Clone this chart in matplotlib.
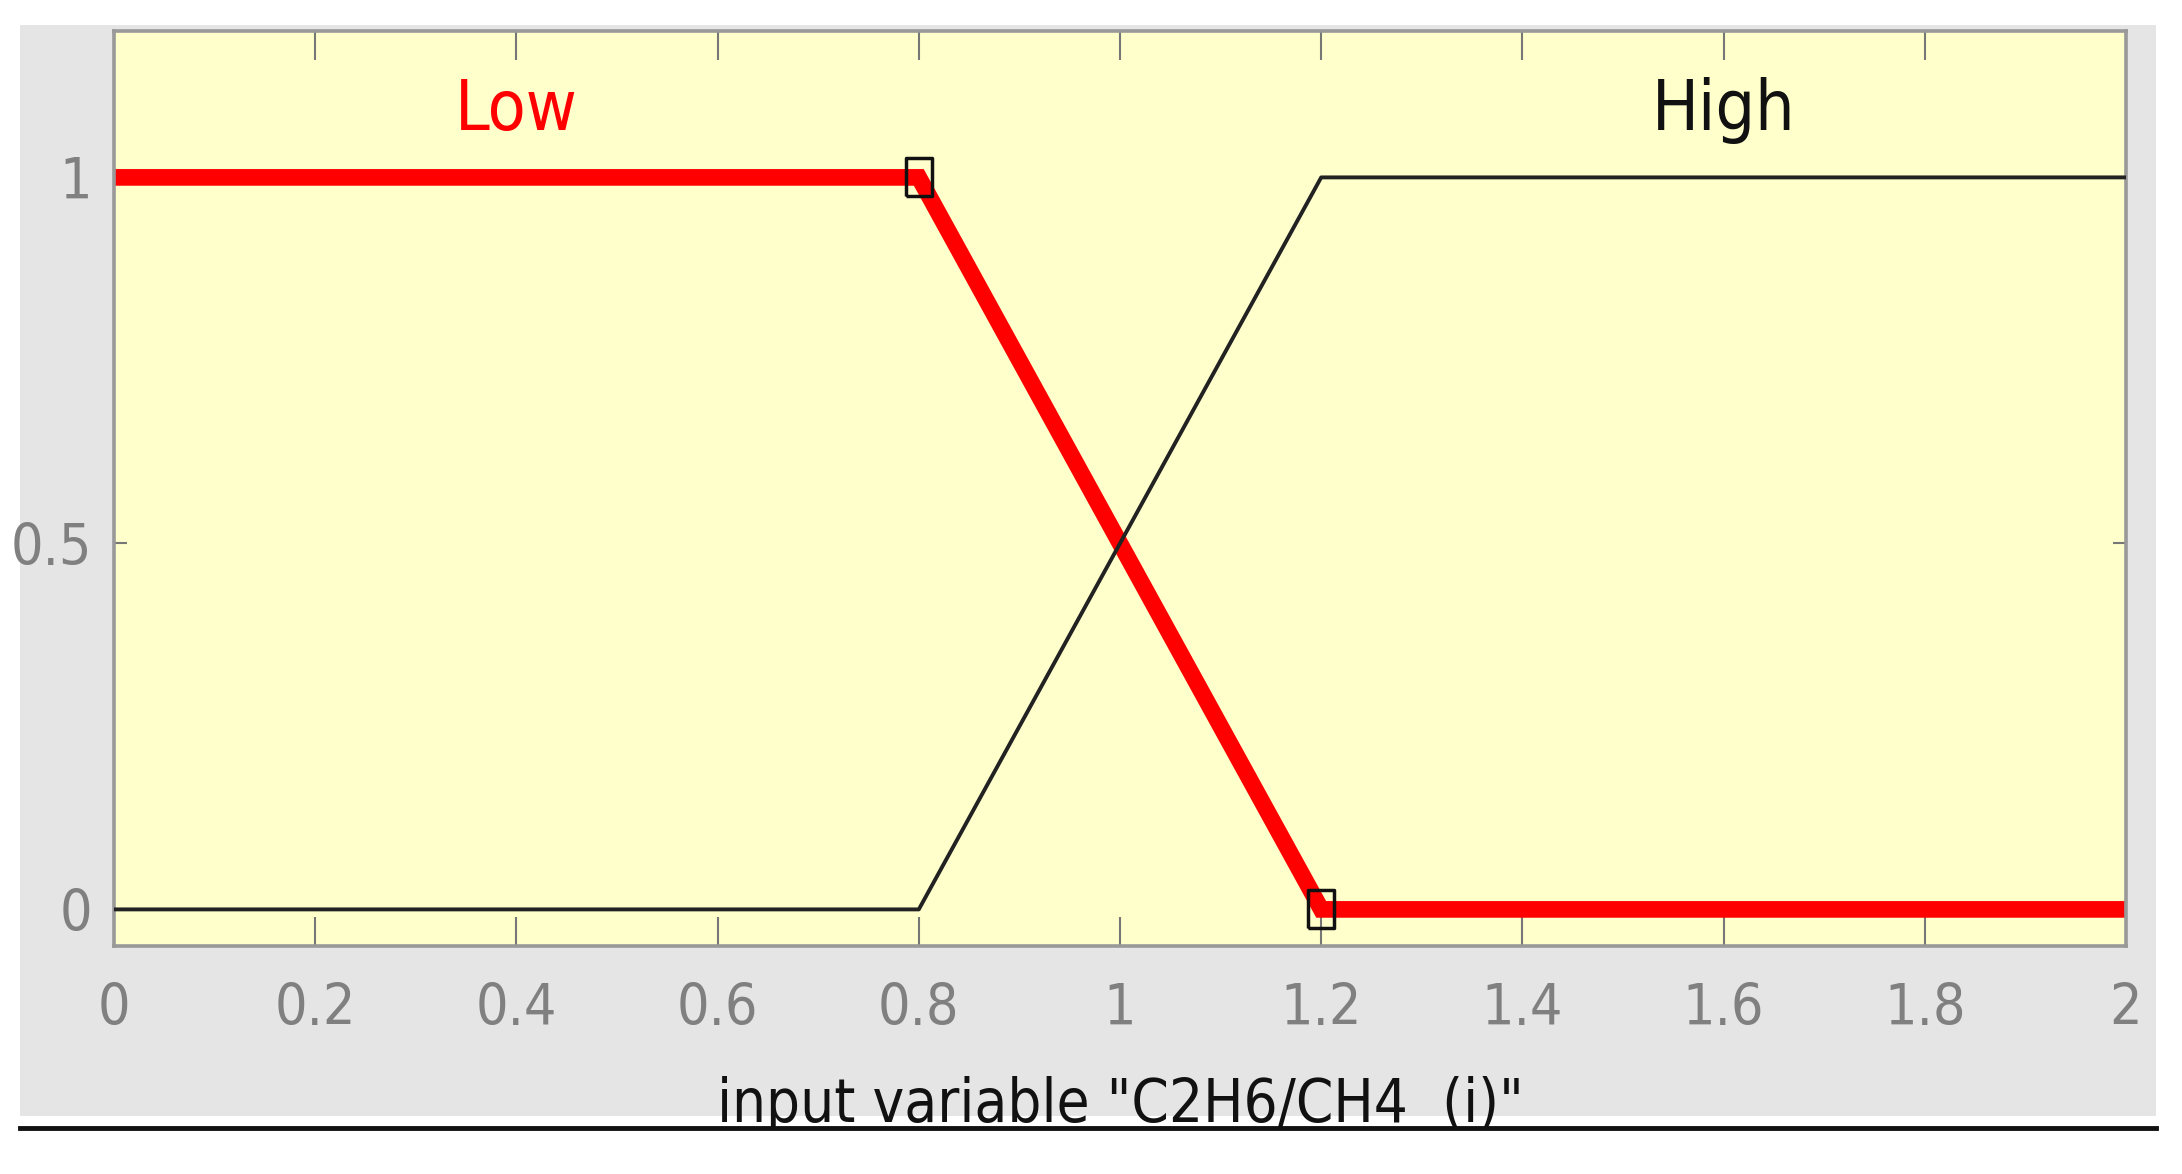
import numpy as np
import matplotlib
matplotlib.use("Agg")
import matplotlib.pyplot as plt
from matplotlib.patches import Rectangle
from matplotlib.lines import Line2D

# membership functions of input variable "C2H6/CH4 (i)"
x_pts = [0.0, 0.8, 1.2, 2.0]
low_mf = [1.0, 1.0, 0.0, 0.0]
high_mf = [0.0, 0.0, 1.0, 1.0]
low_handles_x = [0.8, 1.2]
low_handles_y = [1.0, 0.0]
mf_names = ["Low", "High"]
mf_label_x = [0.4, 1.6]
mf_label_y = 1.065

xticks = [0, 0.2, 0.4, 0.6, 0.8, 1, 1.2, 1.4, 1.6, 1.8, 2]
xtick_labels = ["0", "0.2", "0.4", "0.6", "0.8", "1", "1.2", "1.4", "1.6", "1.8", "2"]
yticks = [0, 0.5, 1]
ytick_labels = ["0", "0.5", "1"]

plt.rcParams['font.family'] = 'DejaVu Sans'
plt.rcParams['font.stretch'] = 'condensed'

W, H = 2182, 1174
fig = plt.figure(figsize=(W / 100, H / 100), dpi=100)
fig.patch.set_facecolor("white")

# grey panel and black rule underneath
fig.patches.append(Rectangle((20 / W, 1 - 1116 / H), 2136 / W, 1091 / H,
                             transform=fig.transFigure, facecolor="#e5e5e5",
                             edgecolor="none", zorder=-5))
fig.lines.append(Line2D([20 / W, 2156 / W], [1 - 1128 / H, 1 - 1128 / H],
                        transform=fig.transFigure, color="#111111", lw=3.5, zorder=5))
clip_rect = Rectangle((20 / W, 1 - 1127 / H), 2136 / W, 1102 / H,
                      transform=fig.transFigure, visible=False)

ax = fig.add_axes([114 / W, 1 - 946 / H, 2012 / W, 915 / H])
ax.set_facecolor("#ffffcc")

ax.plot(x_pts, low_mf, color="#ff0000", lw=12, solid_joinstyle="miter", zorder=2)
ax.plot(x_pts, high_mf, color="#222222", lw=2.8, zorder=3)
box = [(-25, -37), (25, -37), (25, 37), (-25, 37), (-25, -37)]
ax.plot(low_handles_x, low_handles_y, ls="none", marker=box, markersize=27,
        markerfacecolor="none", markeredgecolor="#111111", markeredgewidth=2.5, zorder=4)

ax.text(mf_label_x[0], mf_label_y, mf_names[0], color="#ff0000", fontsize=50,
        ha="center", va="baseline")
ax.text(mf_label_x[1], mf_label_y, mf_names[1], color="#111111", fontsize=50,
        ha="center", va="baseline")

ax.set_xlim(0, 2)
ax.set_ylim(-0.05, 1.2)
ax.set_xticks(xticks)
ax.set_xticklabels(xtick_labels)
ax.set_yticks(yticks)
ax.set_yticklabels(ytick_labels)
ax.tick_params(axis="x", direction="in", length=21, width=1.5, color="#777777",
               top=True, labelsize=41, labelcolor="#808080", pad=26)
ax.tick_params(axis="y", direction="in", length=9.5, width=1.5, color="#777777",
               right=True, labelsize=41, labelcolor="#808080", pad=16)
for s in ax.spines.values():
    s.set_color("#999999")
    s.set_linewidth(2.6)

xl = ax.set_xlabel('input variable "C2H6/CH4  (i)"', fontsize=43, color="#111111",
                   labelpad=28)
xl.set_clip_path(clip_rect)

fig.savefig("out.png", dpi=100)
